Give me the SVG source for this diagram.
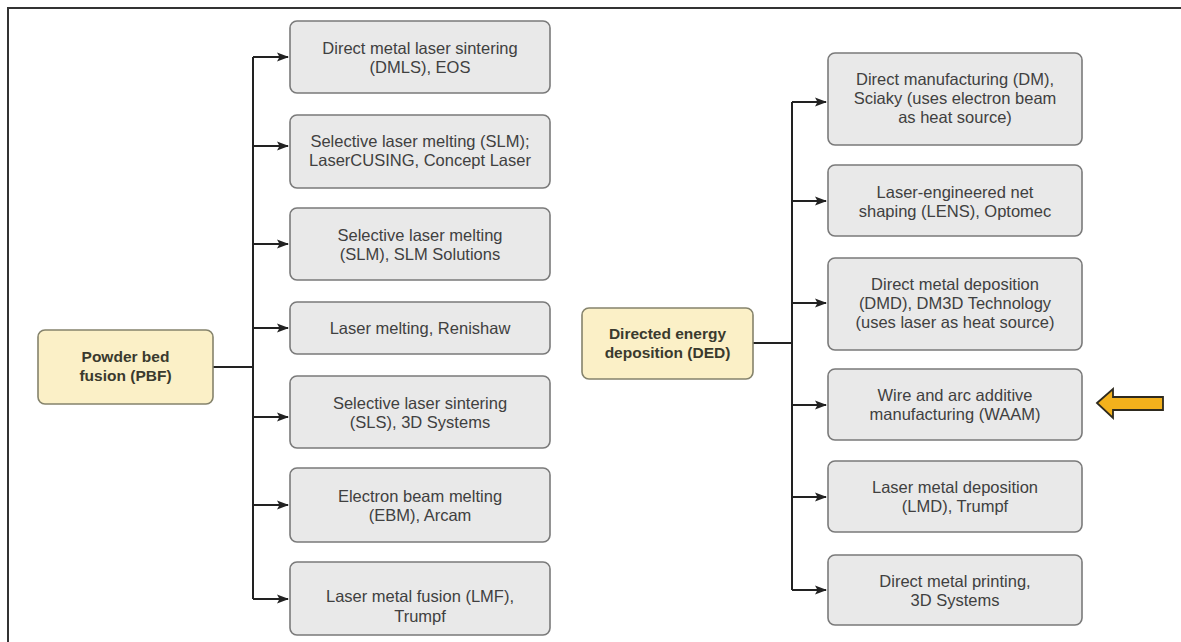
<svg xmlns="http://www.w3.org/2000/svg" width="1181" height="642" viewBox="0 0 1181 642">
<defs>
<marker id="ah" markerWidth="12" markerHeight="10" refX="11" refY="5" orient="auto" markerUnits="userSpaceOnUse">
<path d="M0,0.5 L12,5 L0,9.5 L2.5,5 z" fill="#222"/>
</marker>
</defs>
<style>
.box{fill:#e9e9e9;stroke:#7a7a7a;stroke-width:1.6}
.main{fill:#fbf0c7;stroke:#85836c;stroke-width:1.6}
.t{font-family:"Liberation Sans",Arial,sans-serif;font-size:16.5px;fill:#404040;text-anchor:middle}
.tb{font-family:"Liberation Sans",Arial,sans-serif;font-size:15.5px;font-weight:bold;fill:#3a3a2e;text-anchor:middle}
.ln{fill:none;stroke:#222;stroke-width:2}
.ar{fill:none;stroke:#222;stroke-width:2;marker-end:url(#ah)}
</style>
<rect width="1181" height="642" fill="#fff"/>
<path d="M8,642 V8 H1181" fill="none" stroke="#333" stroke-width="2"/>

<g id="connectors">
<path class="ln" d="M213,367 H253 M253,57 V599"/>
<path class="ar" d="M253,57 H288"/>
<path class="ar" d="M253,146 H288"/>
<path class="ar" d="M253,244 H288"/>
<path class="ar" d="M253,328 H288"/>
<path class="ar" d="M253,417 H288"/>
<path class="ar" d="M253,505 H288"/>
<path class="ar" d="M253,599 H288"/>
<path class="ln" d="M753,343 H792 M792,102 V590"/>
<path class="ar" d="M792,102 H826"/>
<path class="ar" d="M792,201 H826"/>
<path class="ar" d="M792,303 H826"/>
<path class="ar" d="M792,405 H826"/>
<path class="ar" d="M792,497 H826"/>
<path class="ar" d="M792,590 H826"/>
</g>

<g id="pbf">
<rect class="main" x="38" y="330" width="175" height="74" rx="7"/>
<text class="tb" y="362"><tspan x="125.5">Powder bed</tspan><tspan x="125.5" dy="19">fusion (PBF)</tspan></text>
</g>
<g id="ded">
<rect class="main" x="582" y="308" width="171" height="71" rx="7"/>
<text class="tb" y="339"><tspan x="667.5">Directed energy</tspan><tspan x="667.5" dy="19">deposition (DED)</tspan></text>
</g>

<g id="dmls">
<rect class="box" x="290" y="21" width="260" height="72" rx="7"/>
<text class="t" y="54"><tspan x="420">Direct metal laser sintering</tspan><tspan x="420" dy="19">(DMLS), EOS</tspan></text>
</g>
<g id="slm-concept">
<rect class="box" x="290" y="115" width="260" height="73" rx="7"/>
<text class="t" y="147"><tspan x="420">Selective laser melting (SLM);</tspan><tspan x="420" dy="19">LaserCUSING, Concept Laser</tspan></text>
</g>
<g id="slm-solutions">
<rect class="box" x="290" y="208" width="260" height="72" rx="7"/>
<text class="t" y="241"><tspan x="420">Selective laser melting</tspan><tspan x="420" dy="19">(SLM), SLM Solutions</tspan></text>
</g>
<g id="renishaw">
<rect class="box" x="290" y="302" width="260" height="52" rx="7"/>
<text class="t" x="420" y="334">Laser melting, Renishaw</text>
</g>
<g id="sls">
<rect class="box" x="290" y="376" width="260" height="72" rx="7"/>
<text class="t" y="409"><tspan x="420">Selective laser sintering</tspan><tspan x="420" dy="19">(SLS), 3D Systems</tspan></text>
</g>
<g id="ebm">
<rect class="box" x="290" y="468" width="260" height="74" rx="7"/>
<text class="t" y="502"><tspan x="420">Electron beam melting</tspan><tspan x="420" dy="19">(EBM), Arcam</tspan></text>
</g>
<g id="lmf">
<rect class="box" x="290" y="562" width="260" height="73" rx="7"/>
<text class="t" y="602"><tspan x="420">Laser metal fusion (LMF),</tspan><tspan x="420" dy="20">Trumpf</tspan></text>
</g>

<g id="dm">
<rect class="box" x="828" y="53" width="254" height="92" rx="7"/>
<text class="t" y="85"><tspan x="955">Direct manufacturing (DM),</tspan><tspan x="955" dy="19">Sciaky (uses electron beam</tspan><tspan x="955" dy="19">as heat source)</tspan></text>
</g>
<g id="lens">
<rect class="box" x="828" y="165" width="254" height="71" rx="7"/>
<text class="t" y="198"><tspan x="955">Laser-engineered net</tspan><tspan x="955" dy="19">shaping (LENS), Optomec</tspan></text>
</g>
<g id="dmd">
<rect class="box" x="828" y="258" width="254" height="92" rx="7"/>
<text class="t" y="290"><tspan x="955">Direct metal deposition</tspan><tspan x="955" dy="19">(DMD), DM3D Technology</tspan><tspan x="955" dy="19">(uses laser as heat source)</tspan></text>
</g>
<g id="waam">
<rect class="box" x="828" y="369" width="254" height="71" rx="7"/>
<text class="t" y="401"><tspan x="955">Wire and arc additive</tspan><tspan x="955" dy="19">manufacturing (WAAM)</tspan></text>
</g>
<g id="lmd">
<rect class="box" x="828" y="461" width="254" height="71" rx="7"/>
<text class="t" y="493"><tspan x="955">Laser metal deposition</tspan><tspan x="955" dy="19">(LMD), Trumpf</tspan></text>
</g>
<g id="dmp">
<rect class="box" x="828" y="555" width="254" height="70" rx="7"/>
<text class="t" y="587"><tspan x="955">Direct metal printing,</tspan><tspan x="955" dy="19">3D Systems</tspan></text>
</g>

<g id="highlight-arrow">
<path d="M1097,403 L1113,389 L1113,397 L1163,397 L1163,410 L1113,410 L1113,418 z" fill="#f3b11c" stroke="#2e2a1e" stroke-width="1.8" stroke-linejoin="miter"/>
</g>
</svg>
